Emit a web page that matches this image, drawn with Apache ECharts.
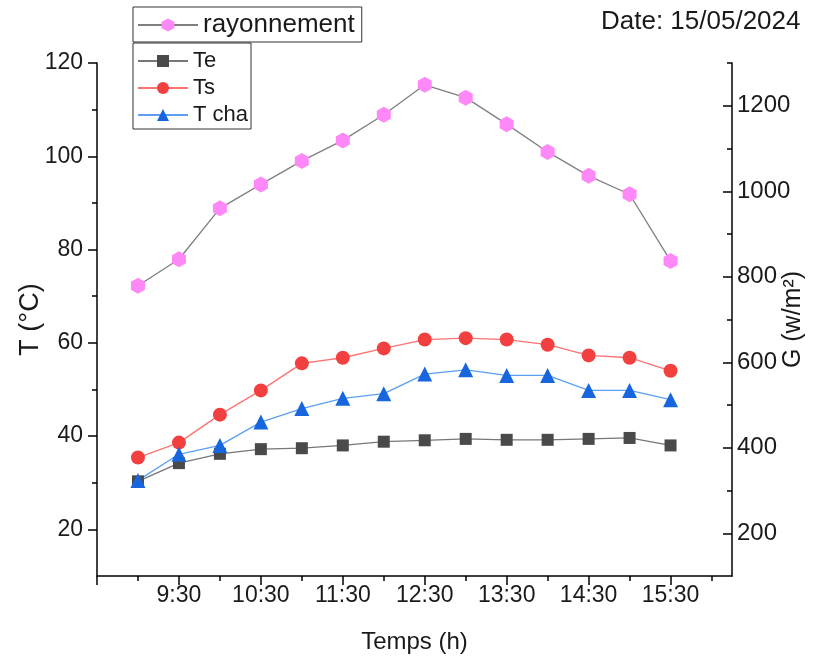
<!DOCTYPE html>
<html>
<head>
<meta charset="utf-8">
<script src="https://cdn.jsdelivr.net/npm/echarts@6/dist/echarts.min.js"></script>
<style>
  html, body { margin: 0; padding: 0; background: #fff; }
  #chart { width: 829px; height: 656px; }
</style>
</head>
<body>
<div id="chart"></div>
<script>
// Measurement times, every half hour
const times = ['9:00', '9:30', '10:00', '10:30', '11:00', '11:30', '12:00',
               '12:30', '13:00', '13:30', '14:00', '14:30', '15:00', '15:30'];

// Solar irradiance G (W/m²)
const rayonnement = [779, 841, 960, 1016, 1071, 1119, 1179, 1249, 1219, 1157, 1092, 1036, 993, 837];

// Temperatures (°C)
const te   = [30.3, 34.2, 36.2, 37.2, 37.4, 38.0, 38.8, 39.1, 39.4, 39.2, 39.2, 39.4, 39.6, 38.0];
const ts   = [35.4, 38.6, 44.6, 49.8, 55.6, 56.8, 58.8, 60.7, 61.0, 60.7, 59.6, 57.3, 56.8, 54.0];
const tcha = [30.5, 36.1, 38.0, 43.0, 45.9, 48.1, 49.1, 53.3, 54.2, 53.0, 53.0, 49.8, 49.8, 47.8];

// Axis ticks
const xMajor = [0, 2, 4, 6, 8, 10, 12, 14];
const xMinor = [1, 3, 5, 7, 9, 11, 13, 15];
const tMajor = [20, 40, 60, 80, 100, 120];
const tMinor = [30, 50, 70, 90, 110];
const gMajor = [200, 400, 600, 800, 1000, 1200];
const gMinor = [300, 500, 700, 900, 1100, 1300];

const toPoints = arr => arr.map((v, i) => [i + 1, v]);

const FONT = '"Liberation Sans", Arial, sans-serif';
const INK = '#1a1a1a';
const hexagon = 'path://M0,-1 L0.866,-0.5 L0.866,0.5 L0,1 L-0.866,0.5 L-0.866,-0.5 Z';

const axisLineStyle = { show: true, onZero: false, lineStyle: { color: '#000', width: 1.5 } };
const hiddenLine = { show: false, onZero: false };

const chart = echarts.init(document.getElementById('chart'), null, { renderer: 'canvas' });

chart.setOption({
  animation: false,
  backgroundColor: '#fff',
  textStyle: { fontFamily: FONT, color: INK },
  grid: { left: 97, right: 97, top: 63, bottom: 80, containLabel: false, outerBoundsMode: 'none' },
  graphic: [{
    type: 'text',
    left: 601, top: 9,
    style: { text: 'Date: 15/05/2024', fontSize: 26, fontFamily: FONT, fill: INK }
  }],
  legend: [{
    data: ['rayonnement'],
    left: 133, top: 7,
    orient: 'horizontal',
    itemWidth: 60, itemHeight: 16, itemGap: 0, itemTextGap: 12,
    padding: [5, 7, 4, 4],
    borderColor: '#333', borderWidth: 1,
    textStyle: { fontSize: 26, fontFamily: FONT, color: INK }
  }, {
    data: ['Te', 'Ts', 'T cha'],
    left: 133, top: 43,
    orient: 'vertical',
    itemWidth: 50, itemHeight: 15, itemGap: 5, itemTextGap: 3,
    padding: [7, 3, 3, 4],
    borderColor: '#333', borderWidth: 1,
    textStyle: { fontSize: 22, fontFamily: FONT, color: INK }
  }],
  xAxis: [{
    type: 'value', min: 0, max: 15.5, position: 'bottom',
    name: 'Temps (h)', nameLocation: 'middle', nameGap: 54, nameMoveOverlap: false,
    nameTextStyle: { fontSize: 24, fontFamily: FONT, color: INK },
    axisLine: axisLineStyle,
    axisTick: { show: true, inside: false, length: 9, customValues: xMajor, lineStyle: { color: '#000', width: 1.5 } },
    axisLabel: {
      show: true, margin: 8, fontSize: 23, fontFamily: FONT, color: INK,
      customValues: xMajor.filter(v => v > 0),
      formatter: v => times[Math.round(v) - 1] || ''
    },
    splitLine: { show: false }
  }, {
    type: 'value', min: 0, max: 15.5, position: 'bottom', offset: 0,
    axisLine: hiddenLine,
    axisTick: { show: true, inside: false, length: 5, customValues: xMinor, lineStyle: { color: '#000', width: 1.5 } },
    axisLabel: { show: false },
    splitLine: { show: false }
  }],
  yAxis: [{
    type: 'value', min: 10, max: 120, position: 'left',
    name: 'T (°C)', nameLocation: 'middle', nameGap: 53, nameMoveOverlap: false,
    nameTextStyle: { fontSize: 27, fontFamily: FONT, color: INK },
    axisLine: axisLineStyle,
    axisTick: { show: true, inside: false, length: 9, customValues: tMajor, lineStyle: { color: '#000', width: 1.5 } },
    axisLabel: { show: true, margin: 14, fontSize: 23, fontFamily: FONT, color: INK, customValues: tMajor },
    splitLine: { show: false }
  }, {
    type: 'value', min: 10, max: 120, position: 'left', offset: 0,
    axisLine: hiddenLine,
    axisTick: { show: true, inside: false, length: 5, customValues: tMinor, lineStyle: { color: '#000', width: 1.5 } },
    axisLabel: { show: false },
    splitLine: { show: false }
  }, {
    type: 'value', min: 100, max: 1300, position: 'right',
    name: 'G (w/m²)', nameLocation: 'middle', nameGap: 49, nameMoveOverlap: false,
    nameTextStyle: { fontSize: 25, fontFamily: FONT, color: INK },
    axisLine: axisLineStyle,
    axisTick: { show: true, inside: true, length: 9, customValues: gMajor, lineStyle: { color: '#000', width: 1.5 } },
    axisLabel: {
      show: true, margin: 5, fontSize: 24, fontFamily: FONT, color: INK, customValues: gMajor,
      formatter: v => String(v)
    },
    splitLine: { show: false }
  }, {
    type: 'value', min: 100, max: 1300, position: 'right', offset: 0,
    axisLine: hiddenLine,
    axisTick: { show: true, inside: true, length: 5, customValues: gMinor, lineStyle: { color: '#000', width: 1.5 } },
    axisLabel: { show: false },
    splitLine: { show: false }
  }],
  series: [{
    name: 'rayonnement', type: 'line', xAxisIndex: 0, yAxisIndex: 2,
    data: toPoints(rayonnement),
    symbol: hexagon, symbolSize: [14, 16],
    itemStyle: { color: '#ff88f8' },
    lineStyle: { color: '#7f7f7f', width: 1.3 }
  }, {
    name: 'Te', type: 'line', xAxisIndex: 0, yAxisIndex: 0,
    data: toPoints(te),
    symbol: 'rect', symbolSize: 12,
    itemStyle: { color: '#4a4a4a' },
    lineStyle: { color: '#777777', width: 1.3 }
  }, {
    name: 'Ts', type: 'line', xAxisIndex: 0, yAxisIndex: 0,
    data: toPoints(ts),
    symbol: 'circle', symbolSize: 14,
    itemStyle: { color: '#f23f3f' },
    lineStyle: { color: '#ff7272', width: 1.3 }
  }, {
    name: 'T cha', type: 'line', xAxisIndex: 0, yAxisIndex: 0,
    data: toPoints(tcha),
    symbol: 'triangle', symbolSize: 15,
    itemStyle: { color: '#1766dd' },
    lineStyle: { color: '#5c9ef2', width: 1.3 }
  }]
});
</script>
</body>
</html>
